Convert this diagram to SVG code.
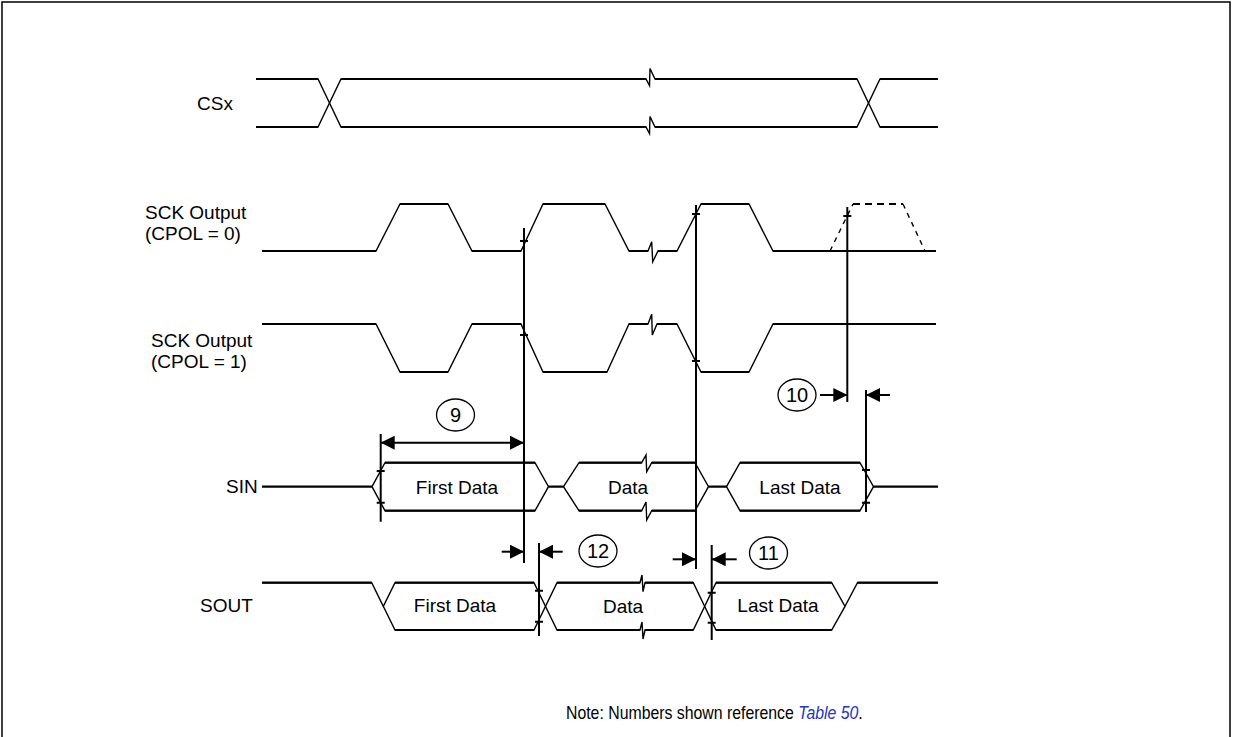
<svg xmlns="http://www.w3.org/2000/svg" width="1233" height="737" viewBox="0 0 1233 737">
<style>
text{font-family:"Liberation Sans",Arial,sans-serif;font-size:19px;fill:#000}
.mid{text-anchor:middle}
.hz{fill:none;stroke:#000;stroke-width:2.2;stroke-linejoin:miter}
.sig{fill:none;stroke:#000;stroke-width:1.4;stroke-linejoin:miter}
.vl{fill:none;stroke:#000;stroke-width:2}
.tk{fill:none;stroke:#000;stroke-width:2}
.dash{fill:none;stroke:#000;stroke-width:1.4;stroke-dasharray:5 5}
.circ{fill:none;stroke:#000;stroke-width:1.3}
.arr{fill:none;stroke:#000;stroke-width:2}
.num{font-size:20px}
.note{font-size:18px}
.link{fill:#2233cc;font-style:italic}
</style>
<defs>
<marker id="ah" markerUnits="userSpaceOnUse" markerWidth="14" markerHeight="14" refX="14" refY="7" orient="auto-start-reverse">
<path d="M0,0 L14,7 L0,14 Z" fill="#000"/>
</marker>
</defs>
<rect width="1233" height="737" fill="#fff"/>
<path d="M2,737 V2 H1230 V737" fill="none" stroke="#000" stroke-width="1.5"/>

<g id="labels">
<text x="197" y="110">CSx</text>
<text x="145" y="219">SCK Output</text>
<text x="145" y="240">(CPOL = 0)</text>
<text x="151" y="347">SCK Output</text>
<text x="151" y="368">(CPOL = 1)</text>
<text x="226" y="493">SIN</text>
<text x="200" y="612">SOUT</text>
</g>

<g id="csx">
<path class="sig" d="M256,79 H318 L341,127 H646 L649.5,133.5 L650,116.5 L655,127 H857 L880,79 H938"/>
<path class="sig" d="M256,127 H318 L341,79 H646 L649.5,85.5 L650,68.5 L655,79 H857 L880,127 H938"/>
<path class="hz" d="M256,79 H318 M341,79 H646 M655,79 H857 M880,79 H938 M256,127 H318 M341,127 H646 M655,127 H857 M880,127 H938"/>
</g>

<g id="sck-cpol0">
<path class="sig" d="M262,251 H376 L400,204 H448 L472,251 H521 L543,204 H605 L629,251 H648 L651.7,241.7 L652.7,261.7 L658,251 H677 L701,204 H749 L773,251 H936"/>
<path class="hz" d="M262,251 H376 M400,204 H448 M472,251 H521 M543,204 H605 M629,251 H648 M658,251 H677 M701,204 H749 M773,251 H936"/>
<path class="dash" d="M830,251 L853,204"/>
<path class="dash" d="M903,204 L925,251"/>
<path class="hz" d="M853,204 H903" stroke-dasharray="7 5"/>
</g>

<g id="sck-cpol1">
<path class="sig" d="M262,324 H376 L400,372 H448 L472,324 H521 L543,372 H607 L629,324 H648 L651.7,314.3 L652.3,335 L657,324 H677 L701,372 H749 L773,324 H936"/>
<path class="hz" d="M262,324 H376 M400,372 H448 M472,324 H521 M543,372 H607 M629,324 H648 M657,324 H677 M701,372 H749 M773,324 H936"/>
</g>

<g id="sin">
<path class="hz" d="M262,486.7 H372"/>
<path class="sig" d="M372,486.7 L385,462.7 H535 L548.5,486.7 L535,510.7 H385 Z"/>
<path class="hz" d="M385,462.7 H535 M385,510.7 H535 M548.5,486.7 H563.5"/>
<path class="sig" d="M563.5,486.7 L579,462.7 H641.7 L646,455 L646.7,471.7 L651.7,462.7 H695 L708.5,486.7 L695,510.7 H651.7 L646.7,520 L646,502 L641.7,510.7 H579 Z"/>
<path class="hz" d="M579,462.7 H641.7 M651.7,462.7 H695 M579,510.7 H641.7 M651.7,510.7 H695 M708.5,486.7 H726.5"/>
<path class="sig" d="M726.5,486.7 L740,462.7 H860 L873.5,486.7 L860,510.7 H740 Z"/>
<path class="hz" d="M740,462.7 H860 M740,510.7 H860 M873.5,486.7 H938"/>
<text class="mid" x="457" y="493.5">First Data</text>
<text class="mid" x="628" y="493.5">Data</text>
<text class="mid" x="800" y="493.5">Last Data</text>
</g>

<g id="sout">
<path class="sig" d="M262,582.7 H371.7 L383.3,606.3 L395,582.7 H534 L557,630 H640 L642,622 L643,639 L645,630 H693.3 L716,582.7 H831.7 L845,606.3 L857.5,582.7 H938"/>
<path class="sig" d="M383.3,606.3 L395,630 H534 L557,582.7 H640 L642,575 L643,591.7 L645,582.7 H693.3 L716,630 H831.7 L845,606.3"/>
<path class="hz" d="M262,582.7 H371.7 M395,582.7 H534 M395,630 H534 M557,582.7 H640 M645,582.7 H693.3 M557,630 H640 M645,630 H693.3 M716,582.7 H831.7 M716,630 H831.7 M857.5,582.7 H938"/>
<text class="mid" x="455" y="612">First Data</text>
<text class="mid" x="623" y="613">Data</text>
<text class="mid" x="778" y="612">Last Data</text>
</g>

<g id="timing">
<path class="vl" d="M524,228 V563 M696,205 V569 M847.3,207 V402 M866,390 V512 M380.7,434 V521.7 M539,543 V636 M711.7,545 V640"/>
<path class="tk" d="M520,241 H528 M520,335 H528 M692,214 H700 M692,361 H700 M843.3,216 H851.3 M376.7,471 H384.7 M376.7,502.7 H384.7 M862,470 H870 M862,502.7 H870 M535,590.7 H543 M535,621.7 H543 M707.7,592.7 H715.7 M707.7,622.7 H715.7"/>
<path class="arr" d="M380.7,442.7 H524" marker-start="url(#ah)" marker-end="url(#ah)"/>
<path class="arr" d="M820,395 H847.3" marker-end="url(#ah)"/>
<path class="arr" d="M890,395 H866" marker-end="url(#ah)"/>
<path class="arr" d="M501.7,551.7 H524" marker-end="url(#ah)"/>
<path class="arr" d="M562.7,551.7 H539" marker-end="url(#ah)"/>
<path class="arr" d="M672.7,559.3 H696" marker-end="url(#ah)"/>
<path class="arr" d="M736.7,559.3 H711.7" marker-end="url(#ah)"/>
</g>

<g id="n9"><ellipse class="circ" cx="455.5" cy="415" rx="19" ry="16"/><text class="mid num" x="455.5" y="422">9</text></g>
<g id="n10"><ellipse class="circ" cx="797" cy="395" rx="19" ry="16"/><text class="mid num" x="797" y="402">10</text></g>
<g id="n11"><ellipse class="circ" cx="768.5" cy="553" rx="19" ry="16"/><text class="mid num" x="768.5" y="560">11</text></g>
<g id="n12"><ellipse class="circ" cx="598" cy="551" rx="19" ry="16"/><text class="mid num" x="598" y="558">12</text></g>

<g id="note" transform="translate(566,719) scale(0.88,1)">
<text class="note" x="0" y="0">Note: Numbers shown reference <tspan class="link">Table 50</tspan>.</text>
</g>
</svg>
